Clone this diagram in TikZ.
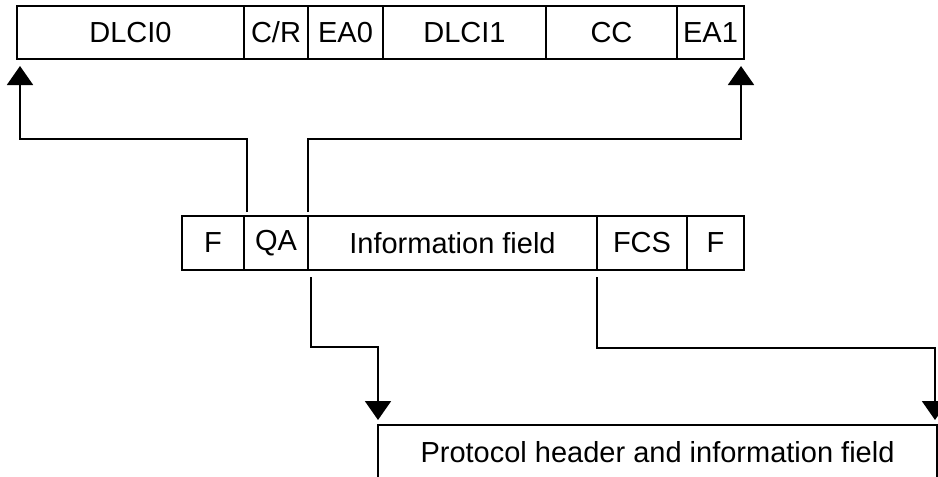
\documentclass[tikz,border=0pt]{standalone}
\usepackage{fontspec}
\setmainfont{Liberation Sans}
\usetikzlibrary{arrows.meta}
\usetikzlibrary{positioning}

\tikzset{
  field/.style={draw, line width=2pt, outer sep=0pt, inner sep=0pt,
    minimum height=53pt, font=\fontsize{29}{34}\selectfont},
  link/.style={line width=2pt, -{Triangle[width=26pt,length=19pt]}}
}

\begin{document}
\begin{tikzpicture}[x=1pt,y=-1pt]
          \useasboundingbox (0,0) rectangle (938,477);
          \clip (0,0) rectangle (938,477);
          % address field
          \node[field, minimum width=227pt, anchor=north west] (dlci0) at (17,6) {DLCI0};
          \node[field, minimum width=64pt, right=0pt of dlci0] (cr) {C/R};
          \node[field, minimum width=75pt, right=0pt of cr] (ea0) {EA0};
          \node[field, minimum width=163pt, right=0pt of ea0] (dlci1) {DLCI1};
          \node[field, minimum width=131pt, right=0pt of dlci1] (cc) {CC};
          \node[field, minimum width=67pt, right=0pt of cc] (ea1) {EA1};
          % frame
          \node[field, minimum height=54pt, minimum width=62pt, anchor=north west] (flag0) at (182,216) {F};
          \node[field, minimum height=54pt, minimum width=64pt, right=0pt of flag0] (qa) {QA};
          \node[field, minimum height=54pt, minimum width=289pt, right=0pt of qa] (info) {Information field};
          \node[field, minimum height=54pt, minimum width=90pt, right=0pt of info] (fcs) {FCS};
          \node[field, minimum height=54pt, minimum width=57pt, right=0pt of fcs] (flag1) {F};
          % payload
          \node[field, minimum height=54pt, minimum width=559pt, anchor=north west] (proto) at (378,425) {Protocol header and information field};
          % line from QA up to the address field
          \draw[link] ([xshift=3pt,yshift=4pt]qa.north west) -- ++(0,-73) -| ([xshift=3pt,yshift=-7pt]dlci0.south west);
          \draw[link] ([yshift=4pt]info.north west) -- ++(0,-73) -| ([xshift=-3pt,yshift=-7pt]ea1.south east);
          % lines from the information field down to the payload
          \draw[link] ([xshift=3pt,yshift=-7pt]info.south west) -- ++(0,70) -| ([yshift=5pt]proto.north west);
          \draw[link] ([yshift=-7pt]fcs.south west) -- ++(0,71) -| ([xshift=-2pt,yshift=5pt]proto.north east);
        \end{tikzpicture}
\end{document}
